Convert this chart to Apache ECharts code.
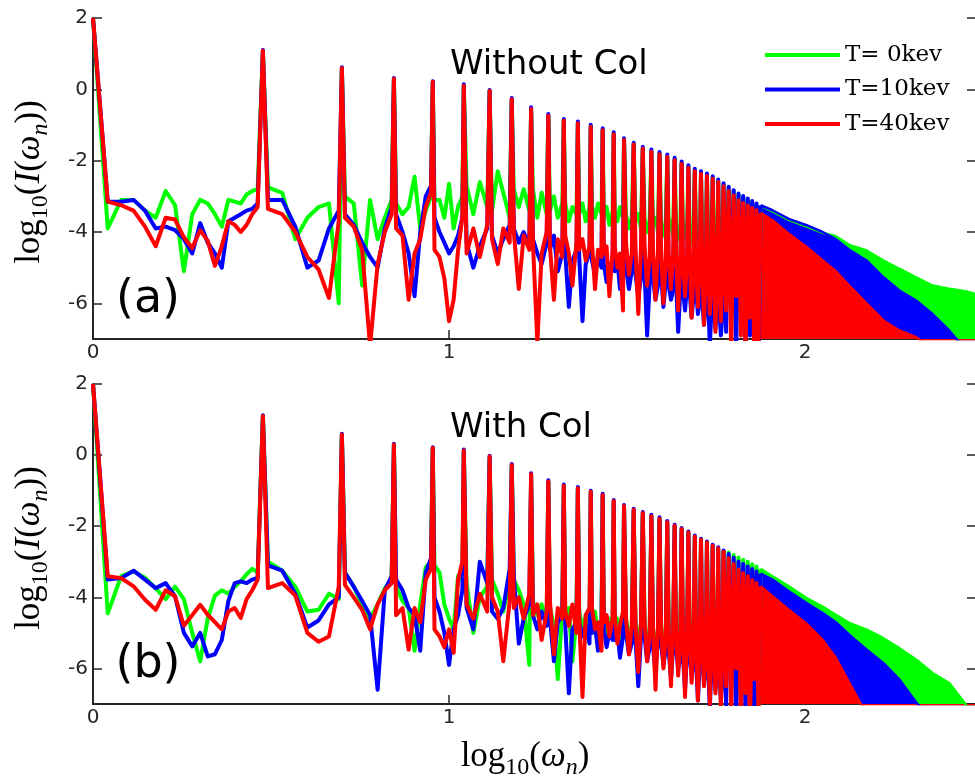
<!DOCTYPE html>
<html><head><meta charset="utf-8">
<script src="https://cdn.jsdelivr.net/npm/echarts@6/dist/echarts.min.js"></script>
<style>html,body{margin:0;padding:0;background:#fff}#c{width:975px;height:778px}</style>
</head><body><div id="c"></div>
<script>
// ---- frequency grid (harmonic number omega_n / omega_0) ----
const omegaA = [1.0,1.1,1.2,1.3,1.4,1.5,1.6,1.7,1.8,1.9,2.0,2.1,2.2,2.3,2.4,2.5,2.6,2.7,2.8,2.9];
const omegaB = [3,3.1,3.4,3.7,4,4.3,4.6,4.9, 5,5.1,5.4,5.7,6,6.3,6.6,6.9, 7,7.1,7.4,7.7,8,8.3,8.6,8.9, 9,9.1,9.4,9.7,10,10.3,10.6,10.9];
const omegaC = [11,11.2,11.7,12.2,12.8, 13,13.2,13.7,14.2,14.8, 15,15.2,15.7,16.2,16.8, 17,17.2,17.7,18.2,18.8, 19,19.2,19.7,20.2,20.8,
  21,21.2,21.7,22.2,22.8, 23,23.2,23.7,24.2,24.8, 25,25.2,25.7,26.2,26.8, 27,27.2,27.7,28.2,28.8, 29,29.2,29.7,30.2,30.8];
const omegaD = [31,31.4,32,32.6, 33,33.4,34,34.6, 35,35.4,36,36.6, 37,37.4,38,38.6, 39,39.4,40,40.6, 41,41.4,42,42.6, 43,43.4,44,44.6,
  45,45.4,46,46.6, 47,47.4,48,48.6, 49,49.4,50,50.6, 51,51.4,52,52.6, 53,53.4,54,54.6, 55,55.4,56,56.6, 57,57.4,58,58.6, 59];
const omegaE = [60,61,62,63,64,65,66,67,68,69,70,71,72,73,74,75];
const omega = omegaA.concat(omegaB, omegaC, omegaD, omegaE);
// fully dense high-harmonic region: upper envelope of the comb
const envN = [75,81,90,101,112,122,133,149,166,184,205,228,254,282,300];

const seriesNames = ['T= 0kev','T=10kev','T=40kev'];
const seriesColors = ['#00ff00','#0000ff','#ff0000'];
const yTicks = [-6,-4,-2,0,2];

// ---- panel (a): Without Col ----
const gA = [].concat(
 [2.0,-3.9,-3.1,-3.1,-3.4,-3.6,-2.85,-3.25,-5.1,-3.5,-3.1,-3.2,-3.5,-3.85,-3.1,-3.15,-3.2,-2.95,-2.85,-2.8],
 [1.05,-2.75,-2.9,-4.2,-3.6,-3.3,-3.2,-6.0, 0.6,-3.0,-3.2,-5.5,-3.1,-4.2,-3.6,-3.1, 0.3,-3.2,-3.5,-3.3,-2.45,-3.9,-3.4,-3.0, 0.2,-3.1,-3.1,-3.6,-2.65,-3.9,-3.3,-3.0],
 [0.1,-2.7,-3.5,-2.6,-3.3, -0.05,-3.4,-2.3,-2.9,-3.6, -0.3,-2.8,-3.3,-2.8,-3.4, -0.55,-2.8,-3.6,-2.9,-3.5, -0.75,-3.4,-3.0,-3.6,-3.2,
  -0.88,-3.2,-3.7,-3.3,-3.5, -0.95,-3.5,-3.2,-3.7,-3.3, -1.05,-3.3,-3.6,-3.2,-3.5, -1.14,-3.6,-3.3,-3.8,-3.4, -1.25,-3.4,-3.7,-3.3,-3.6],
 [-1.42,-3.5,-3.9,-3.6, -1.55,-3.7,-3.5,-3.9, -1.66,-3.6,-4.0,-3.7, -1.74,-3.8,-3.6,-4.0, -1.81,-3.7,-4.1,-3.8, -1.88,-3.9,-3.7,-4.1,
  -1.97,-3.8,-4.2,-3.9, -2.07,-4.0,-3.8,-4.2, -2.18,-3.9,-4.3,-4.0, -2.28,-4.1,-3.9,-4.3, -2.35,-4.0,-4.4,-4.1, -2.41,-4.2,-4.0,-4.4,
  -2.49,-4.1,-4.5,-4.2, -2.58,-4.3,-4.1,-4.5, -2.68],
 [-6.0,-2.76,-6.4,-2.86,-6.2,-2.95,-6.6,-3.02,-6.3,-3.09,-6.8,-3.16,-6.5,-3.22,-7.0,-3.27]);
const bA = [].concat(
 [2.0,-3.15,-3.15,-3.1,-3.4,-3.9,-3.85,-3.95,-4.2,-4.6,-3.75,-4.3,-4.6,-5.0,-3.7,-3.6,-3.5,-3.4,-3.35,-3.2],
 [1.1,-3.1,-3.1,-3.85,-5.0,-4.8,-3.9,-3.4, 0.62,-3.5,-3.8,-4.3,-4.7,-5.0,-3.9,-3.3, 0.32,-3.5,-4.0,-4.6,-5.8,-4.0,-3.0,-2.7, 0.23,-3.6,-4.0,-4.3,-4.6,-4.4,-4.1,-3.6],
 [0.14,-4.3,-5.0,-4.4,-3.9, -0.02,-4.1,-4.6,-4.2,-3.8, -0.24,-3.9,-4.3,-4.0,-4.4, -0.5,-4.2,-4.6,-4.9,-4.3, -0.69,-4.5,-4.1,-5.1,-4.6,
  -0.83,-4.6,-6.1,-4.8,-4.5, -0.9,-4.7,-6.5,-4.9,-4.6, -0.99,-4.8,-5.2,-4.7,-5.0, -1.09,-4.9,-5.4,-5.0,-4.8, -1.2,-5.1,-4.8,-5.6,-5.0],
 [-1.37,-5.0,-5.6,-5.1, -1.5,-5.2,-5.8,-5.3, -1.61,-5.1,-6.9,-5.4, -1.69,-5.3,-5.9,-5.5, -1.76,-5.2,-6.1,-5.4, -1.83,-5.5,-5.9,-5.6,
  -1.92,-5.4,-6.8,-5.7, -2.02,-5.6,-6.2,-5.5, -2.13,-5.7,-6.4,-5.8, -2.23,-5.6,-6.3,-5.9, -2.3,-5.9,-6.6,-6.0, -2.36,-5.8,-7.2,-6.1,
  -2.44,-6.0,-6.7,-6.2, -2.53,-6.1,-6.9,-6.3, -2.63],
 [-6.8,-2.73,-6.3,-2.83,-7.5,-2.92,-6.1,-2.99,-7.8,-3.06,-6.9,-3.13,-6.6,-3.2,-7.9,-3.25]);
const rA = [].concat(
 [2.0,-3.15,-3.25,-3.4,-3.85,-4.4,-3.6,-3.65,-4.15,-4.45,-3.95,-4.25,-4.95,-4.4,-3.7,-3.8,-4.0,-3.8,-3.5,-3.3],
 [1.08,-3.35,-3.5,-4.0,-4.7,-5.05,-5.85,-3.7, 0.6,-3.6,-3.85,-4.5,-7.2,-4.9,-4.0,-3.5, 0.3,-3.9,-4.1,-5.9,-4.6,-4.2,-3.3,-2.9, 0.21,-4.5,-4.7,-5.3,-6.5,-5.9,-4.5,-3.6],
 [0.1,-4.6,-3.9,-4.7,-3.8, -0.04,-4.2,-4.9,-3.9,-4.3, -0.28,-4.0,-5.6,-4.1,-4.5, -0.55,-4.3,-7.1,-4.6,-4.0, -0.74,-4.4,-5.9,-4.2,-4.7,
  -0.88,-4.1,-4.6,-5.5,-4.3, -0.95,-4.5,-4.2,-4.8,-4.4, -1.05,-4.3,-5.6,-4.5,-4.7, -1.15,-4.6,-4.4,-5.8,-4.5, -1.26,-4.4,-5.0,-4.6,-6.2],
 [-1.42,-4.3,-5.2,-4.6, -1.55,-4.5,-6.3,-4.4, -1.66,-4.4,-5.5,-4.7, -1.75,-4.6,-5.9,-4.5, -1.82,-4.5,-6.0,-4.8, -1.9,-4.7,-5.6,-4.6,
  -1.99,-4.6,-6.2,-4.9, -2.09,-4.8,-5.8,-4.7, -2.2,-4.7,-6.4,-5.0, -2.3,-4.9,-6.1,-4.8, -2.37,-4.8,-6.6,-5.1, -2.43,-5.0,-6.3,-4.9,
  -2.51,-4.9,-6.8,-5.2, -2.6,-5.1,-6.5,-5.0, -2.72],
 [-6.2,-2.85,-7.4,-2.98,-5.8,-3.11,-6.9,-3.19,-7.5,-3.26,-6.4,-3.33,-7.8,-3.39,-7.2,-3.46]);
const gAenv = [-3.27,-3.42,-3.66,-3.85,-4.02,-4.12,-4.36,-4.52,-4.8,-5.03,-5.27,-5.5,-5.59,-5.66,-5.73];
const bAenv = [-3.25,-3.39,-3.63,-3.81,-4.0,-4.2,-4.5,-4.8,-5.27,-5.64,-5.92,-6.3,-6.76,-7.3,-7.8];
const rAenv = [-3.46,-3.67,-4.05,-4.42,-4.8,-5.1,-5.5,-6.01,-6.48,-6.76,-6.95,-7.3,-7.8,-8,-8];

// ---- panel (b): With Col ----
const gB = [].concat(
 [2.0,-4.45,-3.4,-3.27,-3.45,-3.75,-4.05,-3.7,-4.05,-5.0,-5.8,-4.6,-3.95,-3.8,-3.9,-3.7,-3.55,-3.35,-3.2,-3.3],
 [1.1,-3.0,-3.25,-3.7,-4.4,-4.35,-3.9,-4.05, 0.58,-3.3,-3.7,-4.2,-4.6,-4.2,-3.75,-3.5, 0.3,-3.7,-4.1,-4.3,-5.5,-4.2,-3.15,-3.0, 0.2,-3.1,-3.3,-4.2,-4.6,-4.9,-3.4,-3.5],
 [0.12,-3.6,-5.0,-4.0,-3.7, -0.06,-3.5,-3.9,-4.4,-3.6, -0.3,-3.5,-3.8,-4.2,-5.9, -0.56,-4.1,-4.5,-4.2,-4.7, -0.76,-4.3,-4.8,-6.3,-4.4,
  -0.88,-4.5,-4.3,-5.8,-4.6, -0.95,-4.4,-4.9,-4.5,-4.8, -1.05,-4.6,-4.4,-5.1,-4.7, -1.14,-4.5,-5.2,-4.6,-4.9, -1.31,-4.8,-4.6,-5.3,-4.7],
 [-1.45,-4.6,-5.1,-4.8, -1.56,-4.8,-5.3,-4.7, -1.65,-4.7,-5.5,-4.9, -1.72,-4.9,-5.2,-5.0, -1.79,-4.8,-5.6,-5.1, -1.89,-5.0,-5.4,-5.2,
  -2.0,-5.1,-5.8,-5.0, -2.09,-5.2,-5.5,-5.3, -2.19,-5.1,-5.9,-5.4, -2.3,-5.3,-5.7,-5.2, -2.39,-5.4,-6.0,-5.5, -2.47,-5.3,-6.2,-5.6,
  -2.56,-5.5,-5.9,-5.7, -2.63,-5.6,-6.3,-5.5, -2.7],
 [-6.3,-2.74,-6.7,-2.81,-6.1,-2.88,-6.9,-2.94,-6.4,-3.0,-7.2,-3.07,-6.6,-3.13,-7.0,-3.2]);
const bB = [].concat(
 [2.0,-3.5,-3.46,-3.25,-3.5,-3.74,-3.6,-3.97,-5.0,-5.38,-5.0,-5.66,-5.6,-5.2,-4.1,-3.6,-3.55,-3.6,-3.5,-3.45],
 [1.12,-3.1,-3.25,-3.9,-4.85,-4.65,-4.2,-4.0, 0.6,-3.3,-3.7,-4.1,-4.5,-6.6,-3.8,-3.4, 0.32,-3.5,-3.8,-4.3,-4.5,-5.5,-3.3,-2.9, 0.22,-4.0,-4.4,-5.0,-5.9,-4.9,-4.5,-3.8],
 [0.16,-4.3,-4.9,-3.0,-3.6, -0.02,-4.4,-4.6,-4.3,-3.2, -0.25,-3.4,-5.3,-4.6,-4.2, -0.51,-4.5,-4.9,-4.4,-4.8, -0.71,-4.6,-5.8,-4.7,-4.5,
  -0.83,-4.8,-6.7,-4.9,-4.7, -0.9,-4.7,-5.1,-4.8,-5.3, -1.0,-5.0,-4.8,-5.5,-4.9, -1.09,-4.9,-5.4,-5.0,-5.2, -1.26,-5.2,-4.9,-5.7,-5.1],
 [-1.4,-5.0,-5.6,-5.3, -1.51,-5.2,-6.5,-5.1, -1.6,-5.1,-5.8,-5.4, -1.68,-5.4,-6.1,-5.2, -1.75,-5.3,-5.9,-5.5, -1.85,-5.5,-6.3,-5.4,
  -1.96,-5.4,-6.0,-5.7, -2.05,-5.7,-6.6,-5.6, -2.15,-5.6,-6.2,-5.9, -2.26,-5.8,-6.9,-5.7, -2.35,-5.7,-6.4,-6.0, -2.43,-6.0,-7.1,-5.9,
  -2.52,-5.9,-6.6,-6.1, -2.59,-6.1,-6.9,-6.2, -2.68],
 [-7.1,-2.78,-6.4,-2.89,-7.7,-2.99,-6.6,-3.06,-7.3,-3.13,-6.2,-3.2,-7.8,-3.27,-6.9,-3.33]);
const rB = [].concat(
 [2.0,-3.41,-3.46,-3.69,-4.07,-4.35,-3.8,-3.97,-4.8,-4.5,-4.21,-4.49,-4.7,-4.9,-4.4,-4.3,-4.58,-4.05,-3.8,-3.5],
 [1.1,-3.74,-3.6,-3.95,-5.0,-5.25,-5.1,-3.7, 0.58,-3.65,-4.0,-4.35,-4.9,-4.2,-3.8,-3.6, 0.3,-4.5,-4.3,-5.47,-4.3,-4.7,-3.5,-3.2, 0.21,-4.9,-5.1,-5.4,-4.9,-5.56,-3.5,-3.0],
 [0.13,-4.2,-4.6,-3.9,-4.4, -0.04,-4.0,-4.4,-5.8,-4.1, -0.28,-4.3,-4.0,-4.6,-3.9, -0.54,-4.5,-4.2,-5.2,-4.4, -0.74,-4.1,-5.6,-4.3,-4.6,
  -0.86,-4.4,-4.8,-4.2,-5.0, -0.93,-4.6,-6.8,-4.5,-4.3, -1.03,-4.3,-4.9,-4.7,-5.5, -1.12,-4.7,-4.5,-5.1,-4.6, -1.29,-4.5,-5.3,-4.8,-4.4],
 [-1.43,-4.6,-5.6,-4.8, -1.54,-4.8,-6.1,-4.7, -1.63,-4.7,-5.8,-5.0, -1.72,-4.9,-6.6,-4.8, -1.79,-4.8,-6.0,-5.1, -1.89,-5.0,-6.5,-4.9,
  -1.99,-4.9,-6.2,-5.2, -2.08,-5.1,-6.8,-5.0, -2.18,-5.0,-6.4,-5.3, -2.29,-5.2,-6.9,-5.1, -2.38,-5.1,-6.5,-5.4, -2.46,-5.3,-7.0,-5.2,
  -2.55,-5.2,-6.7,-5.5, -2.62,-5.4,-7.1,-5.3, -2.72],
 [-6.5,-2.9,-7.3,-3.06,-6.0,-3.22,-7.6,-3.32,-6.7,-3.41,-7.9,-3.51,-6.3,-3.6,-7.4,-3.69]);
const gBenv = [-3.2,-3.41,-3.69,-4.02,-4.26,-4.49,-4.72,-4.91,-5.15,-5.43,-5.75,-6.13,-6.41,-7.0,-7.5];
const bBenv = [-3.33,-3.5,-3.83,-4.16,-4.44,-4.7,-5.05,-5.47,-5.85,-6.31,-6.95,-7.5,-8,-8,-8];
const rBenv = [-3.69,-3.97,-4.35,-4.75,-5.2,-5.7,-6.4,-7.3,-8,-8,-8,-8,-8,-8,-8];

// ---- build chart ----
const AX = '#262626';
const SANS = 'DejaVu Sans';
const SERIF = 'DejaVu Serif';
const MATH = 'Liberation Serif';
const chart = echarts.init(document.getElementById('c'), null, {renderer:'canvas'});
const grids = [{left:93, top:18, width:882, height:321}, {left:93, top:384, width:882, height:320}];
const panels = [{comb:[gA,bA,rA], env:[gAenv,bAenv,rAenv]}, {comb:[gB,bB,rB], env:[gBenv,bBenv,rBenv]}];

const xAxes = [], yAxes = [], series = [];
grids.forEach((g, i) => {
  xAxes.push({type:'log', logBase:10, gridIndex:i, min:1, max:300,
    axisLine:{onZero:false, lineStyle:{color:AX, width:2}},
    axisTick:{inside:true, length:9, lineStyle:{color:AX, width:1.5}},
    axisLabel:{formatter:v => String(Math.round(Math.log10(v))), showMaxLabel:false, margin:4, fontSize:20, fontFamily:SANS, color:AX},
    splitLine:{show:false}, minorTick:{show:false}});
  yAxes.push({type:'value', gridIndex:i, min:-7, max:2, position:'left',
    axisLine:{show:true, onZero:false, lineStyle:{color:AX, width:2}},
    axisTick:{show:true, inside:true, length:9, customValues:yTicks, lineStyle:{color:AX, width:1.5}},
    axisLabel:{customValues:yTicks, margin:5, fontSize:20, fontFamily:SANS, color:AX},
    splitLine:{show:false}});
  yAxes.push({type:'value', gridIndex:i, min:-7, max:2, position:'right',
    axisLine:{show:false, onZero:false},
    axisTick:{show:true, inside:true, length:8, customValues:yTicks, lineStyle:{color:AX, width:1.5}},
    axisLabel:{show:false}, splitLine:{show:false}});
});
panels.forEach((p, pi) => {
  p.comb.forEach((ys, si) => series.push({type:'line', name:seriesNames[si], xAxisIndex:pi, yAxisIndex:pi*2,
    data: omega.map((x, k) => [x, ys[k]]), showSymbol:false, symbol:'none', clip:true, silent:true,
    lineStyle:{width:4, color:seriesColors[si], join:'round'}, itemStyle:{color:seriesColors[si]}}));
});
panels.forEach((p, pi) => {
  p.env.forEach((ys, si) => series.push({type:'line', name:seriesNames[si], xAxisIndex:pi, yAxisIndex:pi*2,
    data: envN.map((x, k) => [x, ys[k]]), showSymbol:false, symbol:'none', clip:true, silent:true,
    lineStyle:{width:2.5, color:seriesColors[si]}, itemStyle:{color:seriesColors[si]},
    areaStyle:{color:seriesColors[si], opacity:1, origin:'start'}}));
});
// all green first, then blue, then red (red drawn on top)
series.sort((a, b) => seriesNames.indexOf(a.name) - seriesNames.indexOf(b.name));

const mathRich = {
  r:{fontFamily:MATH, fontSize:35, lineHeight:46, verticalAlign:'middle', fill:'#000', color:'#000'},
  i:{fontFamily:MATH, fontStyle:'italic', fontSize:35, lineHeight:46, verticalAlign:'middle', fill:'#000', color:'#000'},
  s:{fontFamily:MATH, fontSize:24, lineHeight:22, verticalAlign:'bottom', fill:'#000', color:'#000'},
  si:{fontFamily:MATH, fontStyle:'italic', fontSize:24, lineHeight:22, verticalAlign:'bottom', fill:'#000', color:'#000'}
};
const yLabel = '{r|log}{s|10}{r|(}{i|I}{r|(}{i|ω}{si|n}{r|))}';
const xLabel = '{r|log}{s|10}{r|(}{i|ω}{si|n}{r|)}';

chart.setOption({
  animation:false,
  backgroundColor:'#fff',
  grid: grids,
  xAxis: xAxes,
  yAxis: yAxes,
  legend:{data:seriesNames, orient:'vertical', left:765, top:42, padding:0, itemWidth:75, itemHeight:4, itemGap:8.5, icon:'rect',
    selectedMode:false, textStyle:{fontFamily:SERIF, fontSize:23, lineHeight:26, color:'#000'}},
  graphic:[
    {type:'text', x:450, y:65, style:{text:'Without Col', font:'34px "DejaVu Sans"', fill:'#000', align:'left', verticalAlign:'middle'}},
    {type:'text', x:450, y:428, style:{text:'With Col', font:'34px "DejaVu Sans"', fill:'#000', align:'left', verticalAlign:'middle'}},
    {type:'text', x:148, y:300, style:{text:'(a)', font:'46px "DejaVu Sans"', fill:'#000', align:'center', verticalAlign:'middle'}},
    {type:'text', x:148, y:665, style:{text:'(b)', font:'46px "DejaVu Sans"', fill:'#000', align:'center', verticalAlign:'middle'}},
    {type:'text', x:30, y:182, rotation:Math.PI/2, style:{text:yLabel, rich:mathRich, align:'center', verticalAlign:'middle', fill:'#000'}},
    {type:'text', x:30, y:548, rotation:Math.PI/2, style:{text:yLabel, rich:mathRich, align:'center', verticalAlign:'middle', fill:'#000'}},
    {type:'text', x:525, y:757, style:{text:xLabel, rich:mathRich, align:'center', verticalAlign:'middle', fill:'#000'}}
  ],
  series: series
});
</script></body></html>
